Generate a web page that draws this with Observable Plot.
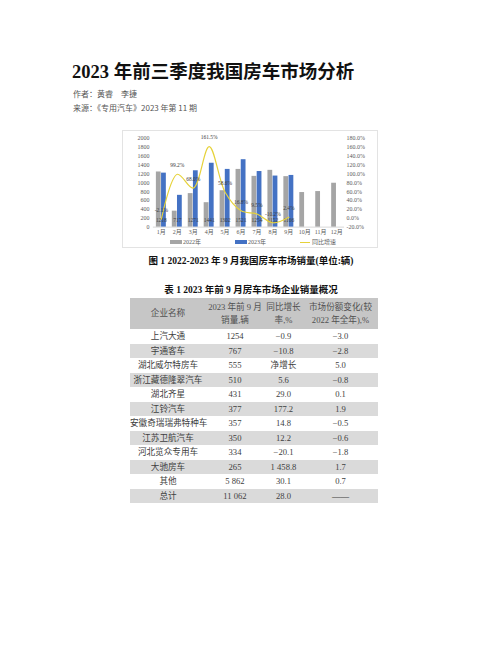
<!DOCTYPE html>
<html><head><meta charset="utf-8">
<script src="https://cdn.jsdelivr.net/npm/d3@7"></script>
<script src="https://cdn.jsdelivr.net/npm/@observablehq/plot@0.6"></script>
<style>
body{margin:0;background:#fff;}
#page{position:relative;width:502px;height:649px;overflow:hidden;font-family:"Liberation Serif","Noto Sans CJK SC",serif;}
.title{position:absolute;left:72px;top:60px;font-size:18.5px;font-weight:700;color:#111;white-space:nowrap;line-height:24px;}
.meta{position:absolute;left:73px;font-size:8px;color:#555;font-family:"Noto Sans CJK SC",sans-serif;white-space:nowrap;line-height:10px;}
#chartbox{position:absolute;left:122px;top:130px;width:256px;height:118px;box-sizing:border-box;border:1px solid #e3e3e3;}
#chart{position:absolute;left:-1px;top:-1px;}
.lg{position:absolute;font-size:6px;color:#595959;line-height:8px;white-space:nowrap;}
.sw{position:absolute;}
.cap{position:absolute;left:0;width:502px;text-align:center;font-weight:700;color:#111;white-space:nowrap;}
table{position:absolute;left:130px;top:298px;width:248px;border-collapse:collapse;table-layout:fixed;font-size:8.6px;color:#404040;}
th{background:#c6c6c6;font-weight:400;color:#505050;height:31px;line-height:13px;padding:0;}
td{height:14.5px;padding:0;text-align:center;line-height:14.5px;white-space:nowrap;}
tr.g td{background:#dadada;}
</style></head>
<body><div id="page">
<div class="title">2023 年前三季度我国房车市场分析</div>
<div class="meta" style="top:89px">作者：黄睿　李捷</div>
<div class="meta" style="top:103px">来源：《专用汽车》2023 年第 11 期</div>
<div id="chartbox">
  <div id="chart"></div>
  <div class="sw" style="left:47px;top:109px;width:12px;height:4px;background:#a5a5a5"></div>
  <div class="lg" style="left:60px;top:107px">2022年</div>
  <div class="sw" style="left:112px;top:109px;width:12px;height:4px;background:#4472c4"></div>
  <div class="lg" style="left:125px;top:107px">2023年</div>
  <div class="sw" style="left:177px;top:110.5px;width:10px;height:1.2px;background:#e6d23a"></div>
  <div class="lg" style="left:189px;top:107px">同比增速</div>
</div>
<div class="cap" style="top:253px;font-size:9.5px;">图 1  2022-2023 年 9 月我国房车市场销量(单位:辆)</div>
<div class="cap" style="top:282px;font-size:9.5px;">表 1  2023 年前 9 月房车市场企业销量概况</div>
<div id="tbl"></div>
</div>
<script>
const months = ["1月","2月","3月","4月","5月","6月","7月","8月","9月","10月","11月","12月"];
const sales2022 = [1244, 360, 756, 551, 821, 1302, 1145, 1281, 1139, 780, 802, 990];
const sales2023 = [1218, 717, 1271, 1441, 1302, 1521, 1254, 1152, 1166];
const yoyPct = [-2.1, 99.2, 68.0, 161.5, 58.6, 16.8, 9.5, -10.2, 2.4];
const leftTicks = [0, 200, 400, 600, 800, 1000, 1200, 1400, 1600, 1800, 2000];

const companies = ["上汽大通","宇通客车","湖北威尔特房车","浙江藏德隆翠汽车","湖北齐星","江铃汽车","安徽奇瑞瑞弗特种车","江苏卫航汽车","河北览众专用车","大驰房车","其他","总计"];
const companySales = ["1254","767","555","510","431","377","357","350","334","265","5 862","11 062"];
const companyGrowth = ["−0.9","−10.8","净增长","5.6","29.0","177.2","14.8","12.2","−20.1","1 458.8","30.1","28.0"];
const companyShare = ["−3.0","−2.8","5.0","−0.8","0.1","1.9","−0.5","−0.6","−1.8","1.7","0.7","——"];
const tableHeaders = ["企业名称","2023 年前 9 月<br>销量,辆","同比增长<br>率,%","市场份额变化(较<br>2022 年全年),%"];

// secondary axis: -20%..180% mapped onto 0..2000
const toLeft = p => (p + 20) * 10;
const d22 = months.map((m, i) => ({m, v: sales2022[i]}));
const d23 = sales2023.map((v, i) => ({m: months[i], v}));
const dl = yoyPct.map((p, i) => ({m: months[i], p, y: toLeft(p)}));

const chart = Plot.plot({
  width: 256, height: 106,
  marginLeft: 31, marginRight: 33, marginTop: 8, marginBottom: 9,
  style: {fontSize: "6px", fontFamily: "'Liberation Serif','Noto Sans CJK SC',serif", color: "#595959", background: "transparent", overflow: "visible"},
  x: {type: "band", domain: months, padding: 0, label: null},
  y: {domain: [0, 2000], label: null},
  marks: [
    Plot.axisY({anchor: "left", ticks: leftTicks, tickSize: 0, tickPadding: 4, label: null, tickFormat: d => String(d)}),
    Plot.axisY({anchor: "right", ticks: leftTicks, tickSize: 0, tickPadding: 2, label: null,
      tickFormat: v => (v / 10 - 20).toFixed(1) + "%"}),
    Plot.axisX({tickSize: 0, tickPadding: 3, label: null}),
    Plot.ruleY([0], {stroke: "#d9d9d9"}),
    Plot.barY(d22, {x: "m", y: "v", fill: "#a5a5a5", insetLeft: 3, insetRight: 8.2}),
    Plot.barY(d23, {x: "m", y: "v", fill: "#4472c4", insetLeft: 8.2, insetRight: 3}),
    Plot.text(d23, {x: "m", frameAnchor: "bottom", dy: -5, fontSize: 5.5, text: d => String(d.v), fill: "#404040"}),
    Plot.line(dl, {x: "m", y: "y", stroke: "#e6d23a", strokeWidth: 1.2, curve: "catmull-rom"}),
    Plot.text(dl, {x: "m", y: "y", dy: -9, fontSize: 5.5, text: d => d.p.toFixed(1) + "%", fill: "#404040"})
  ]
});
document.getElementById("chart").appendChild(chart);

// table
let html = "<table><colgroup><col style='width:76px'><col style='width:58px'><col style='width:39px'><col style='width:75px'></colgroup>";
html += "<tr>" + tableHeaders.map(h => `<th>${h}</th>`).join("") + "</tr>";
companies.forEach((c, i) => {
  html += `<tr class="${i % 2 ? "g" : ""}"><td>${c}</td><td>${companySales[i]}</td><td>${companyGrowth[i]}</td><td>${companyShare[i]}</td></tr>`;
});
html += "</table>";
document.getElementById("tbl").innerHTML = html;
</script>
</body></html>
